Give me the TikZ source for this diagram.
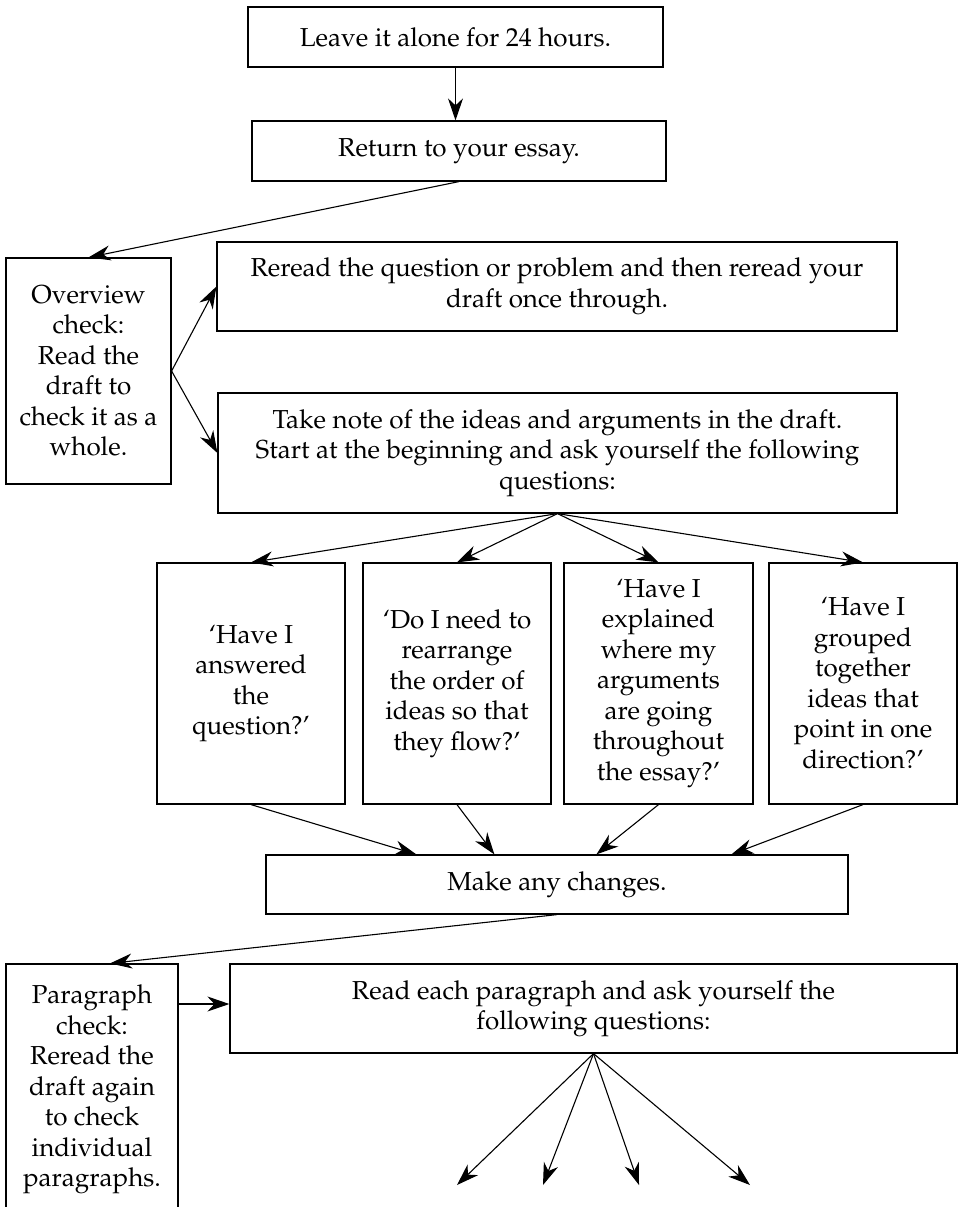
\documentclass[tikz,border=0pt]{standalone}
\usepackage[T1]{fontenc}
\usepackage{mathpazo}
\usetikzlibrary{arrows.meta}

\begin{document}
\begin{tikzpicture}[x=1pt,y=-1pt,
  box/.style={draw, line width=1.2pt, inner sep=0pt, align=center,
    font=\fontsize{26}{30.5}\selectfont},
  link/.style={line width=1.1pt, -{Stealth[length=22pt,width=15pt,inset=7pt]}}]
\useasboundingbox (0,0) rectangle (959,1207);

% top steps
\node[box, minimum width=415pt, minimum height=60pt] (b1) at (455.5,37) {Leave it alone for 24 hours.};
\node[box, minimum width=414pt, minimum height=60pt] (b2) at (459,151) {Return to your essay.};

% overview check
\node[box, minimum width=165pt, minimum height=226pt] (ov) at (88.5,371)
  {Overview\\check:\\Read the\\draft to\\check it as a\\whole.};
\node[box, minimum width=680pt, minimum height=89pt] (rr) at (557,286.5)
  {Reread the question or problem and then reread your\\draft once through.};
\node[box, minimum width=679pt, minimum height=120pt] (tn) at (557.5,453)
  {Take note of the ideas and arguments in the draft.\\Start at the beginning and ask yourself the following\\questions:};

% questions
\node[box, minimum width=188pt, minimum height=241pt] (q1) at (251,683.5)
  {`Have I\\answered\\the\\question?'};
\node[box, minimum width=188pt, minimum height=241pt] (q2) at (457,683.5)
  {`Do I need to\\rearrange\\the order of\\ideas so that\\they flow?'};
\node[box, minimum width=189pt, minimum height=241pt] (q3) at (658.5,683.5)
  {`Have I\\explained\\where my\\arguments\\are going\\throughout\\the essay?'};
\node[box, minimum width=188pt, minimum height=241pt] (q4) at (863,683.5)
  {`Have I\\grouped\\together\\ideas that\\point in one\\direction?'};

\node[box, minimum width=582pt, minimum height=59pt] (mk) at (557,884.5) {Make any changes.};

% paragraph check
\node[box, minimum width=172pt, minimum height=251pt] (pc) at (92,1089.5)
  {Paragraph\\check:\\Reread the\\draft again\\to check\\individual\\paragraphs.};
\node[box, minimum width=727pt, minimum height=89pt] (rd) at (593.5,1008.5)
  {Read each paragraph and ask yourself the\\following questions:};

% free ends of the last fan
\coordinate (e1) at (457,1185);
\coordinate (e2) at (543,1185);
\coordinate (e3) at (639,1185);
\coordinate (e4) at (750,1185);
\coordinate (pa) at ([yshift=4.5pt]rd.west);

% connectors
\draw[link] (b1.south) -- (b1.south |- b2.north);
\draw[link] (b2.south) -- (ov.north);
\draw[link] (ov.east) -- (rr.west);
\draw[link] (ov.east) -- (tn.west);
\foreach \q in {q1,q2,q3,q4} \draw[link] (tn.south) -- (\q.north);
\draw[link] (q1.south) -- ([xshift=151pt]mk.north west);
\draw[link] (q2.south) -- ([xshift=229pt]mk.north west);
\draw[link] (q3.south) -- ([xshift=331pt]mk.north west);
\draw[link] (q4.south) -- ([xshift=466pt]mk.north west);
\draw[link] (mk.south) -- ([xshift=18pt]pc.north);
\draw[link] (pc.east |- pa) -- (pa);
\foreach \e in {e1,e2,e3,e4} \draw[link] (rd.south) -- (\e);
\end{tikzpicture}
\end{document}
